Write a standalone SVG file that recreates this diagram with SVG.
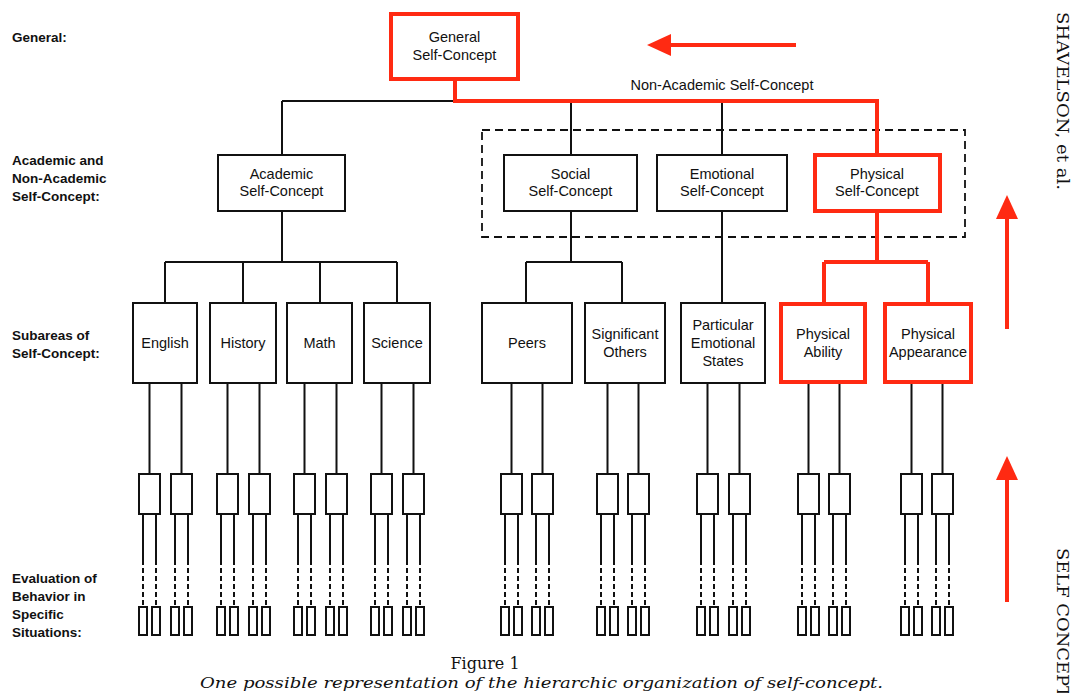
<svg xmlns="http://www.w3.org/2000/svg" width="1077" height="693" viewBox="0 0 1077 693">
<defs>
<style>
.box{fill:#fff;stroke:#111;stroke-width:2}
.rbox{fill:#fff;stroke:#ff2a12;stroke-width:4}
.sm{fill:#fff;stroke:#111;stroke-width:2}
.ln{stroke:#111;stroke-width:2;fill:none}
.dl{stroke:#111;stroke-width:2;fill:none;stroke-dasharray:5 3}
.rl{stroke:#ff2a12;stroke-width:4;fill:none}
.ra{stroke:#ff2a12;stroke-width:4;fill:none;marker-end:url(#rh)}
.t{font-family:"Liberation Sans",Arial,sans-serif;font-size:14.5px;fill:#111;text-anchor:middle}
.lab{font-family:"Liberation Sans",Arial,sans-serif;font-size:13.5px;font-weight:bold;fill:#111}
.ser{font-family:"DejaVu Serif","Liberation Serif",serif;fill:#111}
</style>
<marker id="rh" markerUnits="userSpaceOnUse" markerWidth="24" markerHeight="22" viewBox="0 0 24 22" refX="1" refY="11" orient="auto">
<path d="M0,0 L24,11 L0,22 Z" fill="#ff2a12"/>
</marker>
<g id="leaf">
<rect class="sm" x="0" y="0" width="21" height="40"/>
<path class="ln" d="M4,40 V86 M17,40 V86"/>
<path class="dl" d="M4,86 V133 M17,86 V133"/>
<rect class="sm" x="0" y="133" width="8" height="28"/>
<rect class="sm" x="13" y="133" width="8" height="28"/>
</g>
</defs>
<rect width="1077" height="693" fill="#fff"/>

<g id="row-labels">
<text class="lab" x="12" y="42">General:</text>
<text class="lab" x="12" y="165">Academic and</text>
<text class="lab" x="12" y="183">Non-Academic</text>
<text class="lab" x="12" y="201">Self-Concept:</text>
<text class="lab" x="12" y="340">Subareas of</text>
<text class="lab" x="12" y="358">Self-Concept:</text>
<text class="lab" x="12" y="583">Evaluation of</text>
<text class="lab" x="12" y="601">Behavior in</text>
<text class="lab" x="12" y="619">Specific</text>
<text class="lab" x="12" y="637">Situations:</text>
</g>

<g id="connectors">
<rect x="482" y="130" width="483" height="107" fill="none" stroke="#111" stroke-width="1.8" stroke-dasharray="8 5"/>
<path class="ln" d="M282,101 H455 M282,101 V155 M571,101 V155 M722,101 V155"/>
<path class="ln" d="M282,211 V262 M165,262 H397 M165,262 V303 M243,262 V303 M320,262 V303 M397,262 V303"/>
<path class="ln" d="M571,211 V262 M526,262 H622 M526,262 V303 M622,262 V303 M722,211 V303"/>
<path class="ln" d="M149.5,383 V474 M181.5,383 V474 M227.5,383 V474 M259.5,383 V474 M304.5,383 V474 M336.5,383 V474 M381.5,383 V474 M413.5,383 V474"/>
<path class="ln" d="M511.5,383 V474 M542.5,383 V474 M607.5,383 V474 M638.5,383 V474 M707.5,383 V474 M739.5,383 V474 M808.5,383 V474 M839.5,383 V474 M911.5,383 V474 M942.5,383 V474"/>
<path class="rl" d="M455,80 V101 H877 V155"/>
<path class="rl" d="M877,211 V262 M824,262 H928 M824,262 V303 M928,262 V303"/>
</g>

<g id="arrows">
<line class="ra" x1="796" y1="45" x2="670" y2="45"/>
<line class="ra" x1="1007" y1="329" x2="1007" y2="218"/>
<line class="ra" x1="1007" y1="602" x2="1007" y2="479"/>
</g>

<g id="n-general"><rect class="rbox" x="391" y="14" width="127" height="65"/><text class="t" x="454.5" y="42">General</text><text class="t" x="454.5" y="59.5">Self-Concept</text></g>
<g id="n-nonacad-label"><text class="t" x="722" y="90">Non-Academic Self-Concept</text></g>

<g id="n-academic"><rect class="box" x="218" y="155" width="127" height="56"/><text class="t" x="281.5" y="179">Academic</text><text class="t" x="281.5" y="196">Self-Concept</text></g>
<g id="n-social"><rect class="box" x="504" y="155" width="133" height="56"/><text class="t" x="570.5" y="179">Social</text><text class="t" x="570.5" y="196">Self-Concept</text></g>
<g id="n-emotional"><rect class="box" x="657" y="155" width="130" height="56"/><text class="t" x="722" y="179">Emotional</text><text class="t" x="722" y="196">Self-Concept</text></g>
<g id="n-physical"><rect class="rbox" x="815" y="155" width="125" height="56"/><text class="t" x="877" y="179">Physical</text><text class="t" x="877" y="196">Self-Concept</text></g>

<g id="n-english"><rect class="box" x="133" y="303" width="64" height="80"/><text class="t" x="165" y="348">English</text></g>
<g id="n-history"><rect class="box" x="210" y="303" width="66" height="80"/><text class="t" x="243" y="348">History</text></g>
<g id="n-math"><rect class="box" x="287" y="303" width="65" height="80"/><text class="t" x="319.5" y="348">Math</text></g>
<g id="n-science"><rect class="box" x="364" y="303" width="66" height="80"/><text class="t" x="397" y="348">Science</text></g>
<g id="n-peers"><rect class="box" x="482" y="303" width="90" height="80"/><text class="t" x="527" y="348">Peers</text></g>
<g id="n-significant"><rect class="box" x="585" y="303" width="80" height="80"/><text class="t" x="625" y="339">Significant</text><text class="t" x="625" y="357">Others</text></g>
<g id="n-particular"><rect class="box" x="681" y="303" width="84" height="80"/><text class="t" x="723" y="330">Particular</text><text class="t" x="723" y="348">Emotional</text><text class="t" x="723" y="366">States</text></g>
<g id="n-ability"><rect class="rbox" x="781" y="304" width="84" height="78"/><text class="t" x="823" y="339">Physical</text><text class="t" x="823" y="357">Ability</text></g>
<g id="n-appearance"><rect class="rbox" x="885" y="304" width="86" height="78"/><text class="t" x="928" y="339">Physical</text><text class="t" x="928" y="357">Appearance</text></g>

<g id="n-leaves">
<use href="#leaf" x="139" y="474"/><use href="#leaf" x="171" y="474"/>
<use href="#leaf" x="217" y="474"/><use href="#leaf" x="249" y="474"/>
<use href="#leaf" x="294" y="474"/><use href="#leaf" x="326" y="474"/>
<use href="#leaf" x="371" y="474"/><use href="#leaf" x="403" y="474"/>
<use href="#leaf" x="501" y="474"/><use href="#leaf" x="532" y="474"/>
<use href="#leaf" x="597" y="474"/><use href="#leaf" x="628" y="474"/>
<use href="#leaf" x="697" y="474"/><use href="#leaf" x="729" y="474"/>
<use href="#leaf" x="798" y="474"/><use href="#leaf" x="829" y="474"/>
<use href="#leaf" x="901" y="474"/><use href="#leaf" x="932" y="474"/>
</g>

<g id="side-text">
<text class="ser" font-size="16" transform="translate(1057,12) rotate(90)" textLength="178" lengthAdjust="spacingAndGlyphs">SHAVELSON, et al.</text>
<text class="ser" font-size="17" transform="translate(1057,548) rotate(90)" textLength="150" lengthAdjust="spacingAndGlyphs">SELF CONCEPT</text>
</g>

<g id="caption">
<text class="ser" font-size="16" x="485" y="669" text-anchor="middle">Figure 1</text>
<text class="ser" font-size="15.5" font-style="italic" x="200" y="688" textLength="683" lengthAdjust="spacingAndGlyphs">One possible representation of the hierarchic organization of self-concept.</text>
</g>
</svg>
